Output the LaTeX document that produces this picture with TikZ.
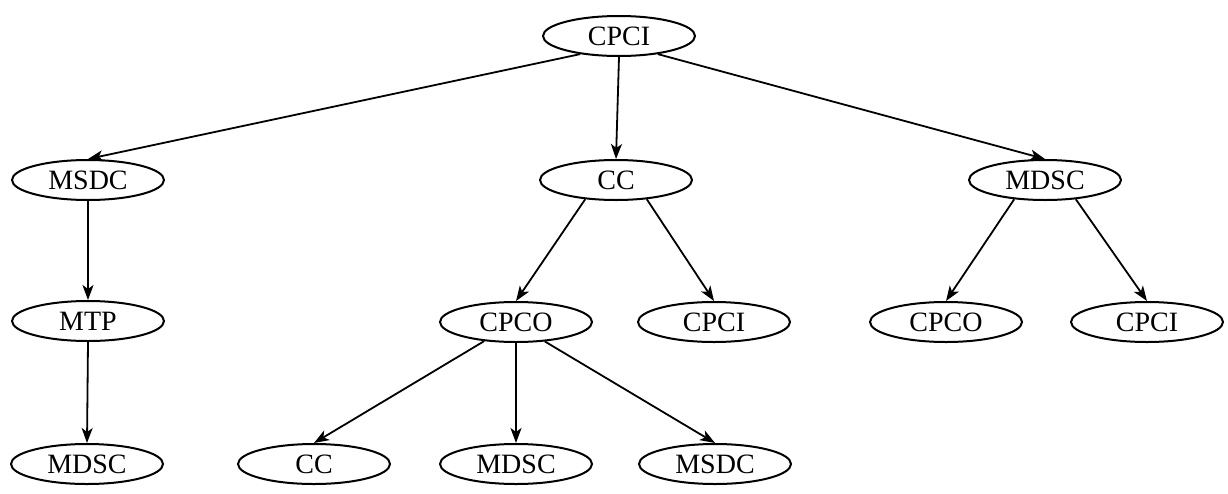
\documentclass[tikz,border=0pt]{standalone}
\usepackage{fontspec}
\setmainfont{Liberation Serif}
\usetikzlibrary{shapes.geometric,arrows.meta}
\begin{document}
\begin{tikzpicture}[x=1pt,y=-1pt,
  nd/.style={draw,ellipse,line width=2pt,minimum width=152pt,minimum height=40pt,inner sep=0pt,font=\fontsize{28}{30}\selectfont},
  ar/.style={line width=1.8pt,-{Stealth[length=15pt,width=11pt,inset=4pt]}}]
\useasboundingbox (0,0) rectangle (1228,493);
\node[nd] (a) at (619,36) {CPCI};
\node[nd] (b) at (88,180) {MSDC};
\node[nd] (c) at (616,180) {CC};
\node[nd] (d) at (1045,180) {MDSC};
\node[nd] (e) at (88,321) {MTP};
\node[nd] (f) at (516,322) {CPCO};
\node[nd] (g) at (714,322) {CPCI};
\node[nd] (h) at (946,322) {CPCO};
\node[nd] (i) at (1147,322) {CPCI};
\node[nd] (j) at (87,464) {MDSC};
\node[nd] (k) at (314,464) {CC};
\node[nd] (l) at (516,464) {MDSC};
\node[nd] (m) at (715,464) {MSDC};
\draw[ar] (a.205) -- (b.north);
\draw[ar] (a.south) -- (c.north);
\draw[ar] (a.335) -- (d.north);
\draw[ar] (b.south) -- (e.north);
\draw[ar] (e.south) -- (j.north);
\draw[ar] (c.212) -- (f.north);
\draw[ar] (c.328) -- (g.north);
\draw[ar] (d.212) -- (h.north);
\draw[ar] (d.328) -- (i.north);
\draw[ar] (f.211) -- (k.north);
\draw[ar] (f.south) -- (l.north);
\draw[ar] (f.326) -- (m.north);
\end{tikzpicture}
\end{document}
